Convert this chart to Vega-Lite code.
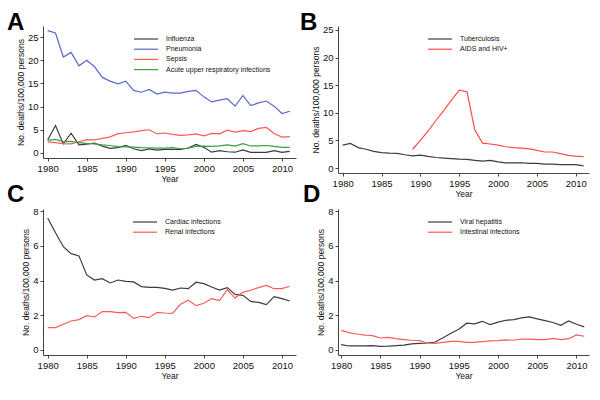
{
"$schema": "https://vega.github.io/schema/vega-lite/v6.json",
"background": "white",
"padding": {"left": 7, "top": 10, "right": 5, "bottom": 5},
"config": {
  "font": "Liberation Sans",
  "view": {"stroke": null},
  "axis": {"grid": false, "domainColor": "#444", "tickColor": "#444", "tickSize": 3, "labelFontSize": 9.5, "labelColor": "#111", "titleFontSize": 8.5, "titleFontWeight": "normal", "titleColor": "#111", "labelPadding": 2, "titlePadding": 2},
  "legend": {"orient": "none", "padding": 0, "labelFontSize": 7, "labelColor": "#111", "symbolType": "M-1,0H3.8", "symbolSize": 100, "symbolStrokeWidth": 1.2, "labelOffset": 21, "rowPadding": 1.2},
  "title": {"anchor": "start", "frame": "group", "fontSize": 24, "fontWeight": "bold", "baseline": "alphabetic", "color": "#000"}
},
"datasets": {
  "A": [
    {"year":1980,"cause":"Influenza","value":2.8},{"year":1981,"cause":"Influenza","value":5.9},{"year":1982,"cause":"Influenza","value":1.95},{"year":1983,"cause":"Influenza","value":4.25},{"year":1984,"cause":"Influenza","value":1.75},{"year":1985,"cause":"Influenza","value":1.9},{"year":1986,"cause":"Influenza","value":2.1},{"year":1987,"cause":"Influenza","value":1.45},{"year":1988,"cause":"Influenza","value":1.0},{"year":1989,"cause":"Influenza","value":1.15},{"year":1990,"cause":"Influenza","value":1.6},{"year":1991,"cause":"Influenza","value":0.9},{"year":1992,"cause":"Influenza","value":0.5},{"year":1993,"cause":"Influenza","value":0.85},{"year":1994,"cause":"Influenza","value":0.6},{"year":1995,"cause":"Influenza","value":0.75},{"year":1996,"cause":"Influenza","value":0.75},{"year":1997,"cause":"Influenza","value":0.75},{"year":1998,"cause":"Influenza","value":1.05},{"year":1999,"cause":"Influenza","value":1.85},{"year":2000,"cause":"Influenza","value":1.2},{"year":2001,"cause":"Influenza","value":0.15},{"year":2002,"cause":"Influenza","value":0.5},{"year":2003,"cause":"Influenza","value":0.25},{"year":2004,"cause":"Influenza","value":0.15},{"year":2005,"cause":"Influenza","value":0.65},{"year":2006,"cause":"Influenza","value":0.1},{"year":2007,"cause":"Influenza","value":0.1},{"year":2008,"cause":"Influenza","value":0.1},{"year":2009,"cause":"Influenza","value":0.5},{"year":2010,"cause":"Influenza","value":0.1},{"year":2011,"cause":"Influenza","value":0.35},
    {"year":1980,"cause":"Pneumonia","value":26.4},{"year":1981,"cause":"Pneumonia","value":25.9},{"year":1982,"cause":"Pneumonia","value":20.7},{"year":1983,"cause":"Pneumonia","value":21.7},{"year":1984,"cause":"Pneumonia","value":18.8},{"year":1985,"cause":"Pneumonia","value":20.0},{"year":1986,"cause":"Pneumonia","value":18.6},{"year":1987,"cause":"Pneumonia","value":16.3},{"year":1988,"cause":"Pneumonia","value":15.5},{"year":1989,"cause":"Pneumonia","value":14.9},{"year":1990,"cause":"Pneumonia","value":15.5},{"year":1991,"cause":"Pneumonia","value":13.5},{"year":1992,"cause":"Pneumonia","value":13.1},{"year":1993,"cause":"Pneumonia","value":13.7},{"year":1994,"cause":"Pneumonia","value":12.7},{"year":1995,"cause":"Pneumonia","value":13.1},{"year":1996,"cause":"Pneumonia","value":12.9},{"year":1997,"cause":"Pneumonia","value":12.9},{"year":1998,"cause":"Pneumonia","value":13.3},{"year":1999,"cause":"Pneumonia","value":13.5},{"year":2000,"cause":"Pneumonia","value":12.1},{"year":2001,"cause":"Pneumonia","value":11.0},{"year":2002,"cause":"Pneumonia","value":11.4},{"year":2003,"cause":"Pneumonia","value":11.7},{"year":2004,"cause":"Pneumonia","value":10.1},{"year":2005,"cause":"Pneumonia","value":12.4},{"year":2006,"cause":"Pneumonia","value":10.2},{"year":2007,"cause":"Pneumonia","value":10.8},{"year":2008,"cause":"Pneumonia","value":11.2},{"year":2009,"cause":"Pneumonia","value":10.1},{"year":2010,"cause":"Pneumonia","value":8.5},{"year":2011,"cause":"Pneumonia","value":9.0},
    {"year":1980,"cause":"Sepsis","value":2.4},{"year":1981,"cause":"Sepsis","value":2.2},{"year":1982,"cause":"Sepsis","value":2.0},{"year":1983,"cause":"Sepsis","value":1.95},{"year":1984,"cause":"Sepsis","value":2.4},{"year":1985,"cause":"Sepsis","value":2.85},{"year":1986,"cause":"Sepsis","value":2.8},{"year":1987,"cause":"Sepsis","value":3.15},{"year":1988,"cause":"Sepsis","value":3.45},{"year":1989,"cause":"Sepsis","value":4.15},{"year":1990,"cause":"Sepsis","value":4.35},{"year":1991,"cause":"Sepsis","value":4.55},{"year":1992,"cause":"Sepsis","value":4.8},{"year":1993,"cause":"Sepsis","value":5.0},{"year":1994,"cause":"Sepsis","value":4.1},{"year":1995,"cause":"Sepsis","value":4.3},{"year":1996,"cause":"Sepsis","value":4.0},{"year":1997,"cause":"Sepsis","value":3.8},{"year":1998,"cause":"Sepsis","value":3.9},{"year":1999,"cause":"Sepsis","value":4.1},{"year":2000,"cause":"Sepsis","value":3.7},{"year":2001,"cause":"Sepsis","value":4.2},{"year":2002,"cause":"Sepsis","value":4.1},{"year":2003,"cause":"Sepsis","value":4.9},{"year":2004,"cause":"Sepsis","value":4.5},{"year":2005,"cause":"Sepsis","value":4.8},{"year":2006,"cause":"Sepsis","value":4.6},{"year":2007,"cause":"Sepsis","value":5.3},{"year":2008,"cause":"Sepsis","value":5.5},{"year":2009,"cause":"Sepsis","value":4.2},{"year":2010,"cause":"Sepsis","value":3.4},{"year":2011,"cause":"Sepsis","value":3.5},
    {"year":1980,"cause":"Acute upper respiratory infections","value":2.7},{"year":1981,"cause":"Acute upper respiratory infections","value":2.9},{"year":1982,"cause":"Acute upper respiratory infections","value":2.45},{"year":1983,"cause":"Acute upper respiratory infections","value":2.5},{"year":1984,"cause":"Acute upper respiratory infections","value":2.2},{"year":1985,"cause":"Acute upper respiratory infections","value":2.05},{"year":1986,"cause":"Acute upper respiratory infections","value":1.95},{"year":1987,"cause":"Acute upper respiratory infections","value":1.75},{"year":1988,"cause":"Acute upper respiratory infections","value":1.6},{"year":1989,"cause":"Acute upper respiratory infections","value":1.35},{"year":1990,"cause":"Acute upper respiratory infections","value":1.3},{"year":1991,"cause":"Acute upper respiratory infections","value":1.25},{"year":1992,"cause":"Acute upper respiratory infections","value":1.15},{"year":1993,"cause":"Acute upper respiratory infections","value":1.1},{"year":1994,"cause":"Acute upper respiratory infections","value":1.05},{"year":1995,"cause":"Acute upper respiratory infections","value":1.05},{"year":1996,"cause":"Acute upper respiratory infections","value":1.15},{"year":1997,"cause":"Acute upper respiratory infections","value":0.9},{"year":1998,"cause":"Acute upper respiratory infections","value":1.0},{"year":1999,"cause":"Acute upper respiratory infections","value":1.4},{"year":2000,"cause":"Acute upper respiratory infections","value":1.45},{"year":2001,"cause":"Acute upper respiratory infections","value":1.4},{"year":2002,"cause":"Acute upper respiratory infections","value":1.5},{"year":2003,"cause":"Acute upper respiratory infections","value":1.75},{"year":2004,"cause":"Acute upper respiratory infections","value":1.45},{"year":2005,"cause":"Acute upper respiratory infections","value":2.0},{"year":2006,"cause":"Acute upper respiratory infections","value":1.5},{"year":2007,"cause":"Acute upper respiratory infections","value":1.5},{"year":2008,"cause":"Acute upper respiratory infections","value":1.6},{"year":2009,"cause":"Acute upper respiratory infections","value":1.4},{"year":2010,"cause":"Acute upper respiratory infections","value":1.2},{"year":2011,"cause":"Acute upper respiratory infections","value":1.2}
  ],
  "B": [
    {"year":1980,"cause":"Tuberculosis","value":4.15},{"year":1981,"cause":"Tuberculosis","value":4.45},{"year":1982,"cause":"Tuberculosis","value":3.7},{"year":1983,"cause":"Tuberculosis","value":3.4},{"year":1984,"cause":"Tuberculosis","value":3.0},{"year":1985,"cause":"Tuberculosis","value":2.8},{"year":1986,"cause":"Tuberculosis","value":2.7},{"year":1987,"cause":"Tuberculosis","value":2.65},{"year":1988,"cause":"Tuberculosis","value":2.4},{"year":1989,"cause":"Tuberculosis","value":2.2},{"year":1990,"cause":"Tuberculosis","value":2.35},{"year":1991,"cause":"Tuberculosis","value":2.1},{"year":1992,"cause":"Tuberculosis","value":1.9},{"year":1993,"cause":"Tuberculosis","value":1.8},{"year":1994,"cause":"Tuberculosis","value":1.7},{"year":1995,"cause":"Tuberculosis","value":1.6},{"year":1996,"cause":"Tuberculosis","value":1.55},{"year":1997,"cause":"Tuberculosis","value":1.4},{"year":1998,"cause":"Tuberculosis","value":1.25},{"year":1999,"cause":"Tuberculosis","value":1.4},{"year":2000,"cause":"Tuberculosis","value":1.1},{"year":2001,"cause":"Tuberculosis","value":0.95},{"year":2002,"cause":"Tuberculosis","value":0.95},{"year":2003,"cause":"Tuberculosis","value":0.95},{"year":2004,"cause":"Tuberculosis","value":0.85},{"year":2005,"cause":"Tuberculosis","value":0.85},{"year":2006,"cause":"Tuberculosis","value":0.7},{"year":2007,"cause":"Tuberculosis","value":0.7},{"year":2008,"cause":"Tuberculosis","value":0.6},{"year":2009,"cause":"Tuberculosis","value":0.6},{"year":2010,"cause":"Tuberculosis","value":0.6},{"year":2011,"cause":"Tuberculosis","value":0.4},
    {"year":1989,"cause":"AIDS and HIV+","value":3.4},{"year":1990,"cause":"AIDS and HIV+","value":5.0},{"year":1991,"cause":"AIDS and HIV+","value":6.7},{"year":1992,"cause":"AIDS and HIV+","value":8.6},{"year":1993,"cause":"AIDS and HIV+","value":10.4},{"year":1994,"cause":"AIDS and HIV+","value":12.3},{"year":1995,"cause":"AIDS and HIV+","value":14.1},{"year":1996,"cause":"AIDS and HIV+","value":13.8},{"year":1997,"cause":"AIDS and HIV+","value":6.9},{"year":1998,"cause":"AIDS and HIV+","value":4.5},{"year":1999,"cause":"AIDS and HIV+","value":4.35},{"year":2000,"cause":"AIDS and HIV+","value":4.15},{"year":2001,"cause":"AIDS and HIV+","value":3.85},{"year":2002,"cause":"AIDS and HIV+","value":3.7},{"year":2003,"cause":"AIDS and HIV+","value":3.6},{"year":2004,"cause":"AIDS and HIV+","value":3.45},{"year":2005,"cause":"AIDS and HIV+","value":3.2},{"year":2006,"cause":"AIDS and HIV+","value":2.9},{"year":2007,"cause":"AIDS and HIV+","value":2.9},{"year":2008,"cause":"AIDS and HIV+","value":2.6},{"year":2009,"cause":"AIDS and HIV+","value":2.3},{"year":2010,"cause":"AIDS and HIV+","value":2.15},{"year":2011,"cause":"AIDS and HIV+","value":2.05}
  ],
  "C": [
    {"year":1980,"cause":"Cardiac infections","value":7.6},{"year":1981,"cause":"Cardiac infections","value":6.75},{"year":1982,"cause":"Cardiac infections","value":5.95},{"year":1983,"cause":"Cardiac infections","value":5.55},{"year":1984,"cause":"Cardiac infections","value":5.42},{"year":1985,"cause":"Cardiac infections","value":4.32},{"year":1986,"cause":"Cardiac infections","value":4.03},{"year":1987,"cause":"Cardiac infections","value":4.11},{"year":1988,"cause":"Cardiac infections","value":3.86},{"year":1989,"cause":"Cardiac infections","value":4.03},{"year":1990,"cause":"Cardiac infections","value":3.95},{"year":1991,"cause":"Cardiac infections","value":3.92},{"year":1992,"cause":"Cardiac infections","value":3.65},{"year":1993,"cause":"Cardiac infections","value":3.61},{"year":1994,"cause":"Cardiac infections","value":3.61},{"year":1995,"cause":"Cardiac infections","value":3.55},{"year":1996,"cause":"Cardiac infections","value":3.45},{"year":1997,"cause":"Cardiac infections","value":3.57},{"year":1998,"cause":"Cardiac infections","value":3.53},{"year":1999,"cause":"Cardiac infections","value":3.9},{"year":2000,"cause":"Cardiac infections","value":3.82},{"year":2001,"cause":"Cardiac infections","value":3.63},{"year":2002,"cause":"Cardiac infections","value":3.45},{"year":2003,"cause":"Cardiac infections","value":3.59},{"year":2004,"cause":"Cardiac infections","value":3.2},{"year":2005,"cause":"Cardiac infections","value":3.15},{"year":2006,"cause":"Cardiac infections","value":2.8},{"year":2007,"cause":"Cardiac infections","value":2.74},{"year":2008,"cause":"Cardiac infections","value":2.61},{"year":2009,"cause":"Cardiac infections","value":3.07},{"year":2010,"cause":"Cardiac infections","value":2.96},{"year":2011,"cause":"Cardiac infections","value":2.82},
    {"year":1980,"cause":"Renal infections","value":1.29},{"year":1981,"cause":"Renal infections","value":1.29},{"year":1982,"cause":"Renal infections","value":1.48},{"year":1983,"cause":"Renal infections","value":1.67},{"year":1984,"cause":"Renal infections","value":1.75},{"year":1985,"cause":"Renal infections","value":1.98},{"year":1986,"cause":"Renal infections","value":1.9},{"year":1987,"cause":"Renal infections","value":2.21},{"year":1988,"cause":"Renal infections","value":2.21},{"year":1989,"cause":"Renal infections","value":2.15},{"year":1990,"cause":"Renal infections","value":2.17},{"year":1991,"cause":"Renal infections","value":1.82},{"year":1992,"cause":"Renal infections","value":1.94},{"year":1993,"cause":"Renal infections","value":1.86},{"year":1994,"cause":"Renal infections","value":2.17},{"year":1995,"cause":"Renal infections","value":2.13},{"year":1996,"cause":"Renal infections","value":2.11},{"year":1997,"cause":"Renal infections","value":2.63},{"year":1998,"cause":"Renal infections","value":2.86},{"year":1999,"cause":"Renal infections","value":2.55},{"year":2000,"cause":"Renal infections","value":2.69},{"year":2001,"cause":"Renal infections","value":2.96},{"year":2002,"cause":"Renal infections","value":2.84},{"year":2003,"cause":"Renal infections","value":3.47},{"year":2004,"cause":"Renal infections","value":2.99},{"year":2005,"cause":"Renal infections","value":3.32},{"year":2006,"cause":"Renal infections","value":3.44},{"year":2007,"cause":"Renal infections","value":3.59},{"year":2008,"cause":"Renal infections","value":3.72},{"year":2009,"cause":"Renal infections","value":3.53},{"year":2010,"cause":"Renal infections","value":3.53},{"year":2011,"cause":"Renal infections","value":3.67}
  ],
  "D": [
    {"year":1980,"cause":"Viral hepatitis","value":0.31},{"year":1981,"cause":"Viral hepatitis","value":0.23},{"year":1982,"cause":"Viral hepatitis","value":0.23},{"year":1983,"cause":"Viral hepatitis","value":0.24},{"year":1984,"cause":"Viral hepatitis","value":0.25},{"year":1985,"cause":"Viral hepatitis","value":0.21},{"year":1986,"cause":"Viral hepatitis","value":0.22},{"year":1987,"cause":"Viral hepatitis","value":0.25},{"year":1988,"cause":"Viral hepatitis","value":0.28},{"year":1989,"cause":"Viral hepatitis","value":0.35},{"year":1990,"cause":"Viral hepatitis","value":0.38},{"year":1991,"cause":"Viral hepatitis","value":0.4},{"year":1992,"cause":"Viral hepatitis","value":0.46},{"year":1993,"cause":"Viral hepatitis","value":0.7},{"year":1994,"cause":"Viral hepatitis","value":0.96},{"year":1995,"cause":"Viral hepatitis","value":1.19},{"year":1996,"cause":"Viral hepatitis","value":1.54},{"year":1997,"cause":"Viral hepatitis","value":1.5},{"year":1998,"cause":"Viral hepatitis","value":1.65},{"year":1999,"cause":"Viral hepatitis","value":1.46},{"year":2000,"cause":"Viral hepatitis","value":1.6},{"year":2001,"cause":"Viral hepatitis","value":1.71},{"year":2002,"cause":"Viral hepatitis","value":1.75},{"year":2003,"cause":"Viral hepatitis","value":1.85},{"year":2004,"cause":"Viral hepatitis","value":1.9},{"year":2005,"cause":"Viral hepatitis","value":1.79},{"year":2006,"cause":"Viral hepatitis","value":1.69},{"year":2007,"cause":"Viral hepatitis","value":1.58},{"year":2008,"cause":"Viral hepatitis","value":1.42},{"year":2009,"cause":"Viral hepatitis","value":1.67},{"year":2010,"cause":"Viral hepatitis","value":1.48},{"year":2011,"cause":"Viral hepatitis","value":1.33},
    {"year":1980,"cause":"Intestinal infections","value":1.13},{"year":1981,"cause":"Intestinal infections","value":1.0},{"year":1982,"cause":"Intestinal infections","value":0.92},{"year":1983,"cause":"Intestinal infections","value":0.85},{"year":1984,"cause":"Intestinal infections","value":0.83},{"year":1985,"cause":"Intestinal infections","value":0.69},{"year":1986,"cause":"Intestinal infections","value":0.73},{"year":1987,"cause":"Intestinal infections","value":0.65},{"year":1988,"cause":"Intestinal infections","value":0.6},{"year":1989,"cause":"Intestinal infections","value":0.56},{"year":1990,"cause":"Intestinal infections","value":0.54},{"year":1991,"cause":"Intestinal infections","value":0.4},{"year":1992,"cause":"Intestinal infections","value":0.38},{"year":1993,"cause":"Intestinal infections","value":0.44},{"year":1994,"cause":"Intestinal infections","value":0.5},{"year":1995,"cause":"Intestinal infections","value":0.5},{"year":1996,"cause":"Intestinal infections","value":0.44},{"year":1997,"cause":"Intestinal infections","value":0.44},{"year":1998,"cause":"Intestinal infections","value":0.48},{"year":1999,"cause":"Intestinal infections","value":0.52},{"year":2000,"cause":"Intestinal infections","value":0.54},{"year":2001,"cause":"Intestinal infections","value":0.58},{"year":2002,"cause":"Intestinal infections","value":0.56},{"year":2003,"cause":"Intestinal infections","value":0.63},{"year":2004,"cause":"Intestinal infections","value":0.63},{"year":2005,"cause":"Intestinal infections","value":0.6},{"year":2006,"cause":"Intestinal infections","value":0.6},{"year":2007,"cause":"Intestinal infections","value":0.67},{"year":2008,"cause":"Intestinal infections","value":0.6},{"year":2009,"cause":"Intestinal infections","value":0.65},{"year":2010,"cause":"Intestinal infections","value":0.87},{"year":2011,"cause":"Intestinal infections","value":0.79}
  ]
},
"columns": 2,
"spacing": {"row": 36, "column": 42},
"bounds": "flush",
"align": "each",
"resolve": {"scale": {"color": "independent", "x": "independent", "y": "independent"}, "legend": {"color": "independent"}},
"concat": [
  {
    "width": 253, "height": 132,
    "title": {"text": "A", "dx": -36, "offset": -9},
    "data": {"name": "A"},
    "mark": {"type": "line", "strokeWidth": 1.2},
    "encoding": {
      "x": {"field": "year", "type": "quantitative", "scale": {"domain": [1979.4, 2011.8], "nice": false, "zero": false}, "axis": {"values": [1980,1985,1990,1995,2000,2005,2010], "format": "d", "title": "Year"}},
      "y": {"field": "value", "type": "quantitative", "scale": {"domain": [-1.1, 27.4], "nice": false, "zero": false}, "axis": {"values": [0,5,10,15,20,25], "title": "No. deaths/100,000 persons"}},
      "color": {"field": "cause", "type": "nominal", "scale": {"domain": ["Influenza", "Pneumonia", "Sepsis", "Acute upper respiratory infections"], "range": ["#3c3c3c", "#5a68cc", "#ff5a5a", "#3aa040"]}, "legend": {"title": null, "legendX": 90, "legendY": 7}}
    }
  },
  {
    "width": 251, "height": 147,
    "title": {"text": "B", "dx": -38, "offset": -10},
    "data": {"name": "B"},
    "mark": {"type": "line", "strokeWidth": 1.2},
    "encoding": {
      "x": {"field": "year", "type": "quantitative", "scale": {"domain": [1979.4, 2011.7], "nice": false, "zero": false}, "axis": {"values": [1980,1985,1990,1995,2000,2005,2010], "format": "d", "title": "Year"}},
      "y": {"field": "value", "type": "quantitative", "scale": {"domain": [-0.9, 25.7], "nice": false, "zero": false}, "axis": {"values": [0,5,10,15,20,25], "title": "No. deaths/100,000 persons"}},
      "color": {"field": "cause", "type": "nominal", "scale": {"domain": ["Tuberculosis", "AIDS and HIV+"], "range": ["#3c3c3c", "#ff4a4a"]}, "legend": {"title": null, "legendX": 89, "legendY": 7}}
    }
  },
  {
    "width": 253, "height": 146,
    "title": {"text": "C", "dx": -36, "offset": -1},
    "data": {"name": "C"},
    "mark": {"type": "line", "strokeWidth": 1.2},
    "encoding": {
      "x": {"field": "year", "type": "quantitative", "scale": {"domain": [1979.4, 2011.8], "nice": false, "zero": false}, "axis": {"values": [1980,1985,1990,1995,2000,2005,2010], "format": "d", "title": "Year"}},
      "y": {"field": "value", "type": "quantitative", "scale": {"domain": [-0.29, 8.12], "nice": false, "zero": false}, "axis": {"values": [0,2,4,6,8], "title": "No. deaths/100,000 persons"}},
      "color": {"field": "cause", "type": "nominal", "scale": {"domain": ["Cardiac infections", "Renal infections"], "range": ["#3c3c3c", "#ff5a5a"]}, "legend": {"title": null, "legendX": 89, "legendY": 7}}
    }
  },
  {
    "width": 251, "height": 146,
    "title": {"text": "D", "dx": -35, "offset": -1},
    "data": {"name": "D"},
    "mark": {"type": "line", "strokeWidth": 1.2},
    "encoding": {
      "x": {"field": "year", "type": "quantitative", "scale": {"domain": [1979.6, 2011.6], "nice": false, "zero": false}, "axis": {"values": [1980,1985,1990,1995,2000,2005,2010], "format": "d", "title": "Year"}},
      "y": {"field": "value", "type": "quantitative", "scale": {"domain": [-0.29, 8.12], "nice": false, "zero": false}, "axis": {"values": [0,2,4,6,8], "title": "No. deaths/100,000 persons"}},
      "color": {"field": "cause", "type": "nominal", "scale": {"domain": ["Viral hepatitis", "Intestinal infections"], "range": ["#3c3c3c", "#ff5a5a"]}, "legend": {"title": null, "legendX": 89, "legendY": 7}}
    }
  }
]
}
